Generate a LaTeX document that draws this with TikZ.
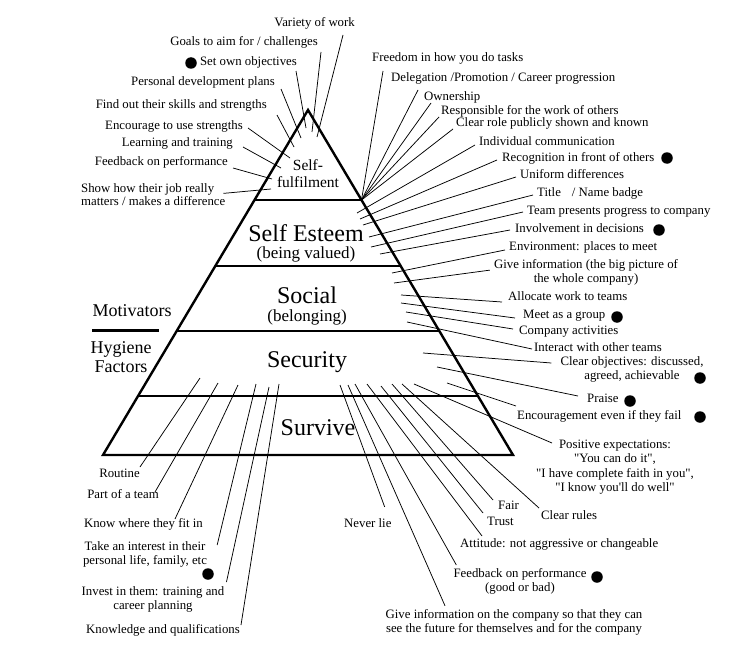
\documentclass[tikz,border=0pt]{standalone}
\usepackage{fontspec}
\setmainfont{Liberation Serif}[Ligatures=TeXOff]
\usetikzlibrary{calc}
\newcommand\lblfont{\fontsize{12.8}{14.5}\selectfont}
\newcommand\tierfont{\fontsize{24}{26}\selectfont}
\newcommand\subfont{\fontsize{17}{19}\selectfont}
\newcommand\sidefont{\fontsize{18}{19.5}\selectfont}

\begin{document}
\begin{tikzpicture}[x=1pt,y=-1pt,
lab/.style={font=\lblfont,inner sep=0pt,align=center},
tier/.style={font=\tierfont,inner sep=0pt,align=center},
lead/.style={line width=0.75pt},
wall/.style={line width=2.4pt},
dot/.style={circle,fill,inner sep=0pt,minimum size=11.5pt}
]
\useasboundingbox (0,0) rectangle (730,658);
\coordinate (top) at (308,110);
\coordinate (bl) at (103,455);
\coordinate (br) at (513,455);
\draw[wall] (top) -- (bl) -- (br) -- cycle;
\foreach \t in {0.261,0.452,0.641,0.829}
  \draw[wall] ($(top)!\t!(bl)$) -- ($(top)!\t!(br)$);
\coordinate (fan) at ($(top)!0.261!(br)$);

\node[tier,font=\fontsize{15.5}{17}\selectfont,anchor=base] (fulfil) at (308,187) {Self-\\fulfilment};
\node[tier,anchor=base] (esteem) at (306,258) {Self Esteem\\[-9pt]{\subfont(being valued)}};
\node[tier,anchor=base] (social) at (307,321) {Social\\[-8pt]{\subfont(belonging)}};
\node[tier,anchor=base] (secur) at (307,367) {Security};
\node[tier,anchor=base] (surv) at (318,435) {Survive};

\node[font=\sidefont,inner sep=0pt,anchor=base] (motiv) at (132,316) {Motivators};
\draw[wall] ([yshift=-14pt]motiv.south west) -- ++(67,0);
\node[font=\sidefont,inner sep=0pt,align=center,anchor=base] (hyg) at (121,372.5) {Hygiene\\Factors};

\node[lab,anchor=base east] (variety) at (355,27) {Variety of work};
\node[lab,anchor=base east] (goals) at (318,46) {Goals to aim for / challenges};
\node[lab,anchor=base east] (setobj) at (297,66) {Set own objectives};
\node[lab,anchor=base east] (pdp) at (275,86) {Personal development plans};
\node[lab,anchor=base east] (skills) at (267,109) {Find out their skills and strengths};
\node[lab,anchor=base east] (usestr) at (243,129) {Encourage to use strengths};
\node[lab,anchor=base east] (learn) at (233,146) {Learning and training};
\node[lab,anchor=base east] (fbtop) at (228,165) {Feedback on performance};
\node[lab,align=left,anchor=base west,font=\fontsize{12.8}{13.5}\selectfont] (matters) at (81,205.5) {Show how their job really\\matters / makes a difference};

\node[lab,anchor=base west] (freedom) at (372,62) {Freedom in how you do tasks};
\node[lab,anchor=base west] (deleg) at (391,82) {Delegation /Promotion / Career progression};
\node[lab,anchor=base west] (owner) at (424,101) {Ownership};
\node[lab,anchor=base west] (respon) at (441,114) {Responsible for the work of others};
\node[lab,anchor=base west] (role) at (456,127) {Clear role publicly shown and known};
\node[lab,anchor=base west] (indiv) at (479,145) {Individual communication};
\node[lab,anchor=base west] (recog) at (502,161) {Recognition in front of others};
\node[lab,anchor=base west] (uniform) at (520,178) {Uniform differences};
\node[lab,anchor=base west] (badge) at (537,196) {Title\hspace{11pt}/ Name badge};
\node[lab,anchor=base west] (team) at (527,214) {Team presents progress to company};
\node[lab,anchor=base west] (involve) at (515,232) {Involvement in decisions};
\node[lab,anchor=base west] (envir) at (509,250) {Environment: places to meet};
\node[lab,anchor=base] (bigpic) at (586,282.5) {Give information (the big picture of\\the whole company)};
\node[lab,anchor=base west] (alloc) at (508,300) {Allocate work to teams};
\node[lab,anchor=base west] (meet) at (523,318) {Meet as a group};
\node[lab,anchor=base west] (activ) at (519,334) {Company activities};
\node[lab,anchor=base west] (interact) at (534,351) {Interact with other teams};
\node[lab,anchor=base] (clobj) at (632,379.5) {Clear objectives: discussed,\\agreed, achievable};
\node[lab,anchor=base west] (praise) at (587,402) {Praise};
\node[lab,anchor=base west] (encour) at (517,419) {Encouragement even if they fail};
\node[lab,anchor=base] (posexp) at (615,491.5) {Positive expectations:\\"You can do it",\\"I have complete faith in you",\\"I know you'll do well"};

\node[lab,anchor=base west] (rules) at (541,519) {Clear rules};
\node[lab,anchor=base west] (fair) at (498,509) {Fair};
\node[lab,anchor=base west] (trust) at (487,525) {Trust};
\node[lab,anchor=base west] (attit) at (460,547) {Attitude: not aggressive or changeable};
\node[lab,anchor=base] (fbbot) at (520,591.5) {Feedback on performance\\(good or bad)};
\node[lab,anchor=base] (future) at (514,632.5) {Give information on the company so that they can\\see the future for themselves and for the company};
\node[lab,anchor=base west] (nolie) at (344,527) {Never lie};

\node[lab,anchor=base east] (routine) at (140,477) {Routine};
\node[lab,anchor=base east] (part) at (159,498) {Part of a team};
\node[lab,anchor=base east] (fit) at (203,527) {Know where they fit in};
\node[lab,anchor=base] (life) at (145,564.5) {Take an interest in their\\personal life, family, etc};
\node[lab,anchor=base] (invest) at (153,609.5) {Invest in them: training and\\career planning};
\node[lab,anchor=base east] (qual) at (240,633) {Knowledge and qualifications};

\foreach \n/\x/\y in {variety/317/137, goals/312/132, setobj/306/128, pdp/301/138,
  skills/294/147, usestr/290/158, learn/281/168, fbtop/272/179, matters/271/189,
  indiv/357/213, recog/360/219, uniform/363/225, badge/369/237, team/371/247,
  involve/380/254, envir/392/273, bigpic/394/283, alloc/401/295, meet/401/303,
  activ/406/312, interact/407/322, clobj/423/353, praise/437/367, encour/447/383,
  posexp/414/384, rules/402/384, fair/392/384, trust/381/386, attit/367/384,
  fbbot/355/384, future/348/385, nolie/340/385, routine/200/378, part/218/383,
  fit/238/385, life/256/384, invest/269/387, qual/279/384}
  \coordinate (\n-in) at (\x,\y);

\foreach \n/\a/\dx/\dy in {variety/base east/-12/8, goals/base east/3/6,
  setobj/base east/-1/5, pdp/base east/6/3, skills/base east/10/6,
  usestr/base east/5/-1, learn/base east/10/1, fbtop/base east/5/3,
  matters/east/-2/-1, indiv/base west/-4/0, recog/base west/-5/-1,
  uniform/base west/-4/-1, badge/base west/-4/-1, team/base west/-4/-2,
  involve/base west/-5/-2, envir/base west/-4/0, bigpic/west/-4/-2,
  alloc/base west/-6/2, meet/base west/-8/0, activ/base west/-6/-5,
  interact/base west/-2/-2, clobj/base west/-9/-16.5, praise/base west/-9/-6,
  encour/base west/-1/-13, posexp/base west/16/-48.5, rules/base west/-2/-11,
  fair/base west/-5/-9, trust/base west/-4/-12, attit/base west/22/-11,
  fbbot/base west/3/-26.5, future/north/-69/-3, nolie/north east/-7/-11,
  routine/base east/0/-10, part/base east/-4/-6, fit/base east/-28/-8,
  life/base east/10/-19.5, invest/base east/2/-27.5, qual/base east/1/-8}
  \draw[lead] ([shift={(\dx,\dy)}]\n.\a) -- (\n-in);

\foreach \n/\dx/\dy in {freedom/11/9, deleg/27/8, owner/7/2, respon/-2/3, role/-3/2}
  \draw[lead] ([shift={(\dx,\dy)}]\n.base west) -- (fan);

\foreach \x/\y [count=\i] in {191/63, 667/158, 659/230, 617/317, 700/378,
  630/401, 700/417, 597/577, 208/574}
  \node[dot] (dot\i) at (\x,\y) {};
\end{tikzpicture}
\end{document}
